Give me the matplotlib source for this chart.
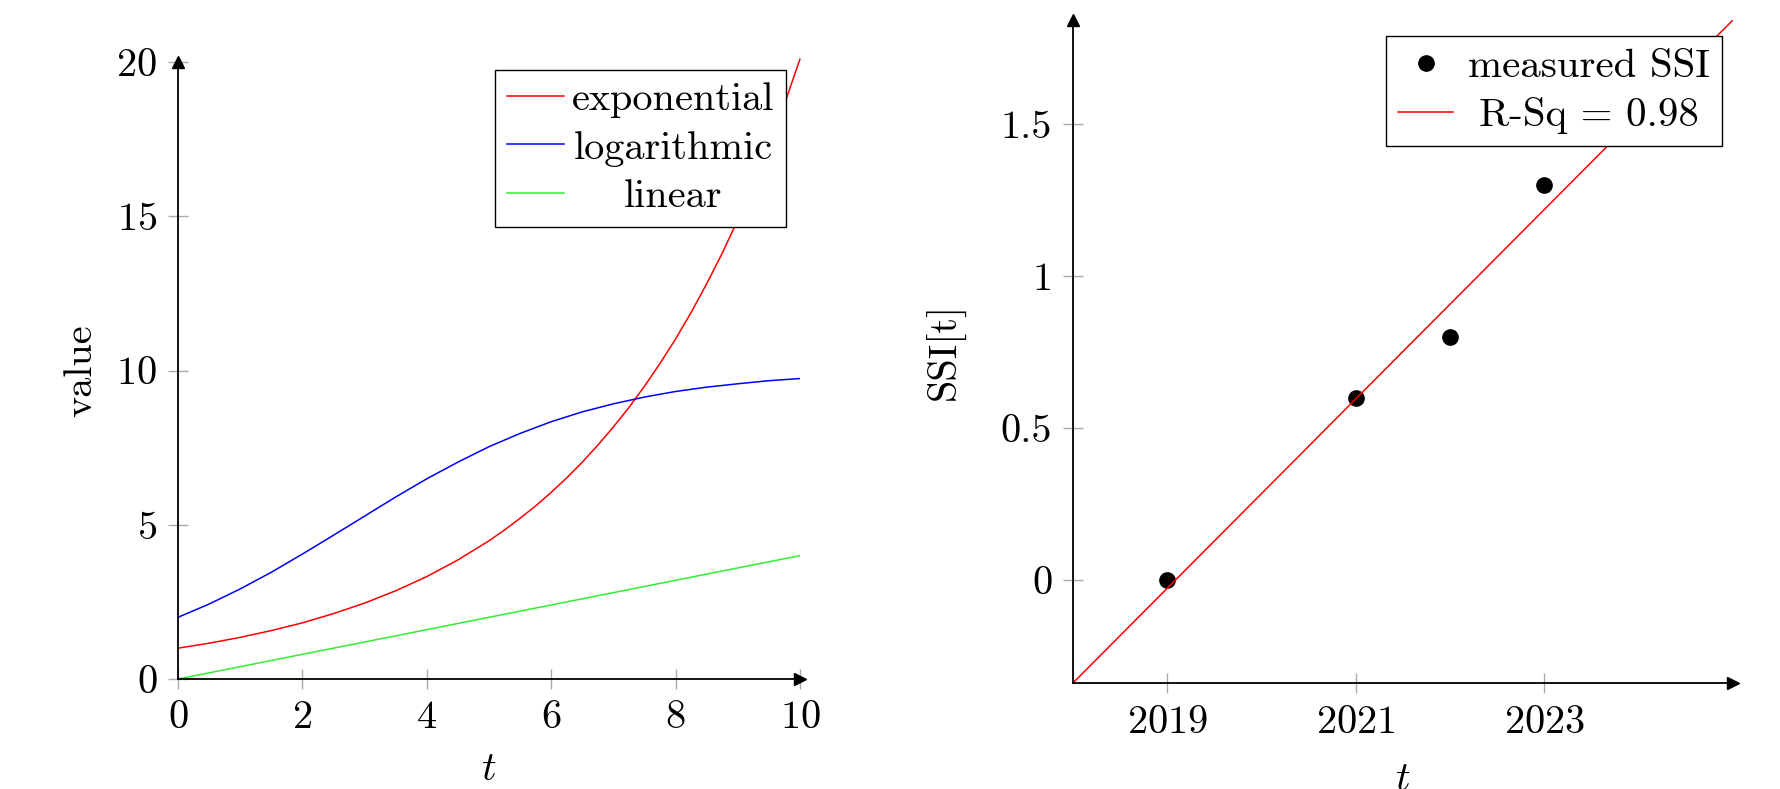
import numpy as np
import matplotlib
matplotlib.use("Agg")
import matplotlib.pyplot as plt

plt.rcParams['font.family'] = 'serif'
plt.rcParams['font.serif'] = ['cmr10', 'DejaVu Serif']
plt.rcParams['mathtext.fontset'] = 'cm'
plt.rcParams['axes.unicode_minus'] = False
plt.rcParams['axes.formatter.use_mathtext'] = True

# --- left panel data ---
t_vals = [0, 0.5, 1, 1.5, 2, 2.5, 3, 3.5, 4, 4.5, 5,
          5.5, 6, 6.5, 7, 7.5, 8, 8.5, 9, 9.5, 10]
t_exp = [0, 0.5, 1, 1.5, 2, 2.5, 3, 3.5, 4, 4.5, 5, 5.25, 5.5, 5.75,
         6, 6.25, 6.5, 6.75, 7, 7.25, 7.5, 7.75, 8, 8.25, 8.5, 8.75,
         9, 9.25, 9.5, 9.75, 10]
exponential = [1.00, 1.16, 1.35, 1.57, 1.82, 2.12, 2.46, 2.86, 3.32, 3.86, 4.48,
               4.83, 5.21, 5.61, 6.05, 6.52, 7.03, 7.58, 8.17, 8.80, 9.49,
               10.23, 11.02, 11.88, 12.81, 13.80, 14.88, 16.04, 17.29, 18.63, 20.09]
logarithmic = [2.00, 2.43, 2.92, 3.46, 4.05, 4.66, 5.28, 5.90, 6.49, 7.03, 7.53,
               7.96, 8.34, 8.66, 8.92, 9.14, 9.32, 9.46, 9.57, 9.67, 9.74]
linear = [0.0, 0.2, 0.4, 0.6, 0.8, 1.0, 1.2, 1.4, 1.6, 1.8, 2.0,
          2.2, 2.4, 2.6, 2.8, 3.0, 3.2, 3.4, 3.6, 3.8, 4.0]
left_xticks = [0, 2, 4, 6, 8, 10]
left_yticks = [0, 5, 10, 15, 20]

# --- right panel data ---
years = [2019, 2021, 2022, 2023]
ssi = [0.0, 0.6, 0.8, 1.3]
fit_domain = [2018, 2025]
right_xticks = [2019, 2021, 2023]
right_yticks = [0, 0.5, 1, 1.5]

FS = 29


def axis_style(ax):
    # pgfplots-like "axis lines = left" with arrows
    ax.spines['top'].set_visible(False)
    ax.spines['right'].set_visible(False)
    ax.spines['left'].set_linewidth(1.3)
    ax.spines['bottom'].set_linewidth(1.3)
    ax.plot(1, 0, '>k', ms=9, transform=ax.transAxes, clip_on=False)
    ax.plot(0, 1, '^k', ms=9, transform=ax.transAxes, clip_on=False)
    ax.tick_params(direction='inout', length=14, width=1, color='#aaaaaa',
                   labelsize=FS, pad=8)


def center_legend_texts(fig, leg):
    # pgfplots centres the legend text in its column
    renderer = fig.canvas.get_renderer()
    texts = leg.get_texts()
    widths = [t.get_window_extent(renderer).width for t in texts]
    wmax = max(widths)
    for t, w in zip(texts, widths):
        t.set_x((wmax - w) / 2)


fig = plt.figure(figsize=(17.8, 7.89), dpi=100)

# left panel
ax1 = fig.add_axes([0.1, 0.1394, 0.3494, 0.782])
ax1.plot(t_exp, exponential, color='red', lw=1.1, label='exponential', clip_on=False)
ax1.plot(t_vals, logarithmic, color='blue', lw=1.1, label='logarithmic')
ax1.plot(t_vals, linear, color='#33ee33', lw=1.1, label='linear')
ax1.set_xlim(0, 10)
ax1.set_ylim(0, 20)
ax1.set_xticks(left_xticks)
ax1.set_yticks(left_yticks)
axis_style(ax1)
ax1.set_xlabel('$t$', fontsize=FS, labelpad=12)
ax1.set_ylabel('value', fontsize=FS, labelpad=12)
leg1 = ax1.legend(loc='upper right', fontsize=FS, frameon=True, fancybox=False,
                  edgecolor='black', framealpha=1, handlelength=1.4,
                  handletextpad=0.2, borderpad=0.3, labelspacing=0.3,
                  borderaxespad=0, bbox_to_anchor=(0.978, 0.987))
leg1.get_frame().set_linewidth(1.0)

# right panel
ax2 = fig.add_axes([0.6028, 0.1344, 0.3708, 0.8403])
slope, icpt = np.polyfit(years, ssi, 1)
fit_y = [slope * x + icpt for x in fit_domain]
r2 = np.corrcoef(years, ssi)[0, 1] ** 2
ax2.plot(years, ssi, 'o', color='black', ms=11, label='measured SSI')
ax2.plot(fit_domain, fit_y, color='red', lw=1.1, label='R-Sq = %.2f' % r2)
ax2.set_xlim(fit_domain[0], fit_domain[1])
ax2.set_ylim(min(fit_y), max(fit_y))
ax2.set_xticks(right_xticks)
ax2.set_yticks(right_yticks)
ax2.set_yticklabels(['%g' % v for v in right_yticks])
axis_style(ax2)
ax2.tick_params(axis='x', pad=9)
ax2.set_xlabel('$t$', fontsize=FS, labelpad=15)
ax2.set_ylabel('SSI[t]', fontsize=FS, labelpad=25)
leg2 = ax2.legend(loc='upper right', fontsize=29.5, frameon=True, fancybox=False,
                  edgecolor='black', framealpha=1, handlelength=1.35,
                  handletextpad=0.35, borderpad=0.3, labelspacing=0.3,
                  borderaxespad=0, bbox_to_anchor=(0.983, 0.976))
leg2.get_frame().set_linewidth(1.0)

fig.canvas.draw()
center_legend_texts(fig, leg1)
center_legend_texts(fig, leg2)

fig.savefig('out.png', dpi=100)
